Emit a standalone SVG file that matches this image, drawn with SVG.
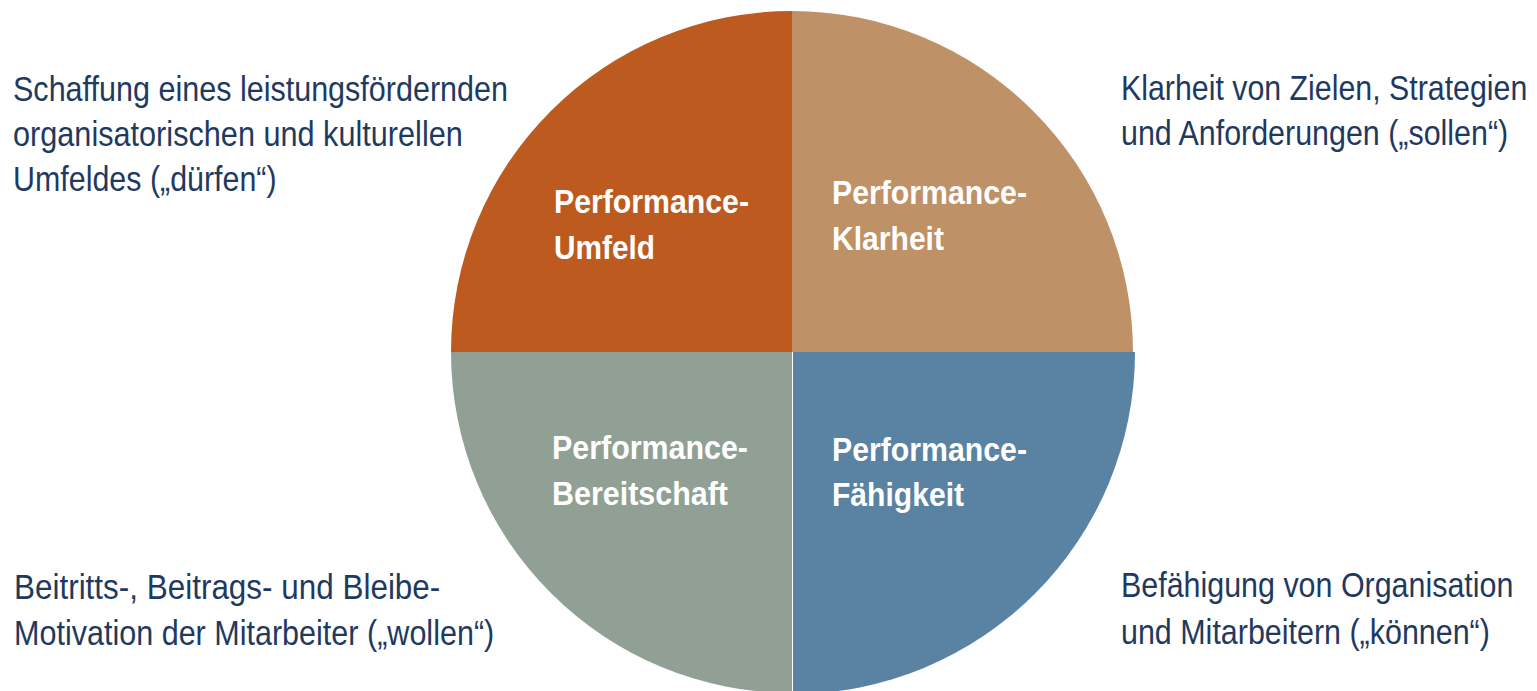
<svg xmlns="http://www.w3.org/2000/svg" width="1537" height="691" viewBox="0 0 1537 691">
  <style>
    .desc { font-family: "Liberation Sans", Arial, sans-serif; font-size: 35px; fill: #1f3a60; }
    .label { font-family: "Liberation Sans", Arial, sans-serif; font-size: 33px; font-weight: bold; fill: #ffffff; }
  </style>
  <rect width="1537" height="691" fill="#ffffff"/>

  <!-- Four quadrants of the performance circle -->
  <g id="umfeld">
    <path d="M792,352 L451,352 A341,341 0 0 1 792,11 Z" fill="#bd5a1f"/>
    <text class="label" x="554" y="213" textLength="195" lengthAdjust="spacingAndGlyphs">Performance-</text>
    <text class="label" x="554" y="259" textLength="101" lengthAdjust="spacingAndGlyphs">Umfeld</text>
  </g>
  <g id="klarheit">
    <path d="M792,352 L792,11 A341,341 0 0 1 1133,352 Z" fill="#be9166"/>
    <text class="label" x="832" y="204" textLength="195" lengthAdjust="spacingAndGlyphs">Performance-</text>
    <text class="label" x="832" y="250" textLength="112" lengthAdjust="spacingAndGlyphs">Klarheit</text>
  </g>
  <g id="faehigkeit">
    <path d="M793,352 L1135,352 A342,342 0 0 1 793,694 Z" fill="#5a82a2"/>
    <text class="label" x="832" y="461" textLength="195" lengthAdjust="spacingAndGlyphs">Performance-</text>
    <text class="label" x="832" y="506" textLength="132" lengthAdjust="spacingAndGlyphs">Fähigkeit</text>
  </g>
  <g id="bereitschaft">
    <path d="M792,352 L792,693 A341,341 0 0 1 451,352 Z" fill="#91a094"/>
    <text class="label" x="552" y="459" textLength="196" lengthAdjust="spacingAndGlyphs">Performance-</text>
    <text class="label" x="552" y="505" textLength="176" lengthAdjust="spacingAndGlyphs">Bereitschaft</text>
  </g>

  <!-- Descriptions beside each quadrant (condensed sans, drawn at 87% width) -->
  <g id="desc-umfeld" transform="translate(13,0) scale(0.87,1)">
    <text class="desc" x="0" y="101" textLength="569" lengthAdjust="spacingAndGlyphs">Schaffung eines leistungsfördernden</text>
    <text class="desc" x="0" y="146" textLength="517" lengthAdjust="spacingAndGlyphs">organisatorischen und kulturellen</text>
    <text class="desc" x="0" y="191" textLength="303" lengthAdjust="spacingAndGlyphs">Umfeldes („dürfen“)</text>
  </g>
  <g id="desc-klarheit" transform="translate(1121,0) scale(0.87,1)">
    <text class="desc" x="0" y="100" textLength="467" lengthAdjust="spacingAndGlyphs">Klarheit von Zielen, Strategien</text>
    <text class="desc" x="0" y="145" textLength="445" lengthAdjust="spacingAndGlyphs">und Anforderungen („sollen“)</text>
  </g>
  <g id="desc-bereitschaft" transform="translate(14,0) scale(0.87,1)">
    <text class="desc" x="0" y="599" textLength="490" lengthAdjust="spacingAndGlyphs">Beitritts-, Beitrags- und Bleibe-</text>
    <text class="desc" x="0" y="645" textLength="552" lengthAdjust="spacingAndGlyphs">Motivation der Mitarbeiter („wollen“)</text>
  </g>
  <g id="desc-faehigkeit" transform="translate(1121,0) scale(0.87,1)">
    <text class="desc" x="0" y="597" textLength="451" lengthAdjust="spacingAndGlyphs">Befähigung von Organisation</text>
    <text class="desc" x="0" y="644" textLength="424" lengthAdjust="spacingAndGlyphs">und Mitarbeitern („können“)</text>
  </g>

  <!-- no connectors in this figure -->
  <g id="connectors"/>
</svg>
